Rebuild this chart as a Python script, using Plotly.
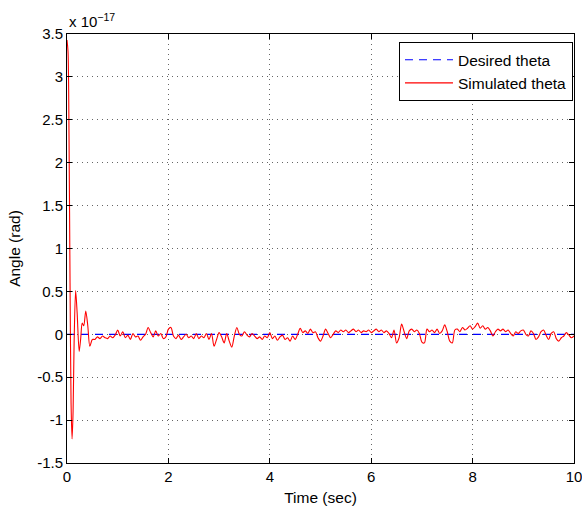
import numpy as np
import plotly.graph_objects as go

# valeurs en unités de 1e-17 rad
transient_t = [0.0, 0.02, 0.04, 0.06, 0.08, 0.10, 0.12, 0.14, 0.17, 0.20,
               0.24, 0.27, 0.30, 0.33, 0.37, 0.41, 0.45, 0.50]
transient_theta = [3.43, 3.30, 2.30, 0.60, -0.80, -1.22, -0.90, -0.10, 0.51, 0.25,
                   -0.20, -0.05, 0.13, 0.10, 0.27, 0.10, -0.14, -0.06]

noise_theta = [
    -0.06, -0.03, -0.05, -0.02, -0.04, -0.05, -0.02, -0.04, -0.01, 0.05,
    -0.02, 0.03, -0.04, -0.01, -0.06, 0.01, -0.03, -0.02, -0.07, -0.03,
    0.00, 0.08, 0.02, -0.03, 0.04, -0.02, 0.01, -0.05, -0.03, 0.06,
    0.08, -0.02, -0.05, -0.01, -0.06, -0.03, 0.00, -0.04, -0.02, -0.05,
    0.01, -0.05, -0.02, -0.04, 0.01, -0.06, 0.01, -0.14, -0.06, 0.02,
    -0.03, -0.10, 0.01, -0.08, -0.15, -0.02, 0.08, 0.00, -0.02, 0.03,
    -0.01, -0.03, 0.01, -0.02, -0.05, -0.03, -0.06, -0.02, -0.04, 0.02,
    -0.05, -0.02, -0.07, -0.03, -0.01, -0.06, -0.04, -0.08, -0.02, -0.06,
    0.00, 0.07, 0.02, 0.04, 0.01, 0.06, 0.02, 0.03, -0.04, -0.08,
    -0.02, 0.06, 0.01, -0.04, 0.00, 0.04, 0.02, 0.05, 0.03, 0.05,
    0.02, 0.04, 0.06, 0.03, 0.05, 0.02, 0.04, 0.03, 0.05, 0.02,
    0.04, 0.06, 0.03, 0.05, 0.02, 0.04, 0.01, -0.04, 0.05, -0.10,
    -0.04, 0.12, 0.03, -0.05, 0.04, 0.06, 0.03, 0.05, 0.01, -0.09,
    -0.10, 0.06, 0.03, 0.05, 0.02, 0.06, 0.01, 0.04, 0.11, 0.03,
    -0.08, -0.10, 0.05, 0.06, 0.03, 0.08, 0.05, 0.07, 0.10, 0.06,
    0.09, 0.13, 0.07, 0.10, 0.06, 0.08, 0.04, -0.02, 0.03, 0.06,
    0.04, 0.06, 0.03, 0.05, 0.01, -0.02, 0.03, 0.01, 0.04, 0.05,
    0.00, -0.02, 0.04, 0.01, -0.06, -0.03, 0.03, 0.05, -0.01, -0.06,
    0.01, 0.03, -0.05, -0.08, -0.04, -0.02, 0.02, -0.01, -0.04, -0.02,
]
noise_t = list(np.round(np.arange(0.55, 10.001, 0.05), 2))

desired_t = [0, 10]
desired_theta = [0, 0]

y_ticks = [-1.5, -1, -0.5, 0, 0.5, 1, 1.5, 2, 2.5, 3, 3.5]
y_labels = ["-1.5", "-1", "-0.5", "0", "0.5", "1", "1.5", "2", "2.5", "3", "3.5"]
x_ticks = [0, 2, 4, 6, 8, 10]

sim_t = transient_t + noise_t
sim_theta = transient_theta + noise_theta

FONT = "Liberation Sans, Arial, Helvetica, sans-serif"

fig = go.Figure()
fig.add_trace(go.Scatter(
    x=desired_t, y=desired_theta, mode="lines", name="Desired theta",
    line=dict(color="#0000ff", width=1.2, dash="8px,6px"),
))
fig.add_trace(go.Scatter(
    x=sim_t, y=sim_theta, mode="lines", name="Simulated theta",
    line=dict(color="#ff0000", width=1.1, shape="spline", smoothing=0.8),
))

axis_common = dict(
    showline=True, linecolor="black", linewidth=1, mirror="ticks",
    ticks="inside", ticklen=5, tickcolor="black", automargin=False,
    ticklabeloverflow="allow",
    showgrid=True, gridcolor="rgba(0,0,0,0.6)", griddash="1px,4px", gridwidth=1,
    zeroline=False, tickfont=dict(size=15, color="black", family=FONT),
)
fig.update_xaxes(
    range=[0, 10], tickvals=x_ticks,
    title=dict(text="Time (sec)", font=dict(size=15.5, color="black", family=FONT), standoff=8),
    **axis_common,
)
fig.update_yaxes(
    range=[-1.5, 3.5], tickvals=y_ticks, ticktext=y_labels,
    title=dict(text="Angle (rad)", font=dict(size=15.5, color="black", family=FONT), standoff=12),
    **axis_common,
)

fig.add_annotation(
    text="x 10<sup>−17</sup>", xref="paper", yref="paper", x=0, y=1.0,
    xanchor="left", yanchor="bottom", showarrow=False, yshift=2,
    font=dict(size=15, color="black", family=FONT),
)

fig.update_layout(
    width=582, height=511,
    margin=dict(l=67, r=8, t=34, b=48),
    plot_bgcolor="white", paper_bgcolor="white",
    font=dict(family=FONT, size=15, color="black"),
    legend=dict(
        x=0.998, y=0.981, xanchor="right", yanchor="top",
        bgcolor="white", bordercolor="black", borderwidth=1,
        font=dict(size=15.5, color="black", family=FONT),
        tracegroupgap=0, itemwidth=48,
    ),
    showlegend=True,
)

# la page a une marge de 8 px par défaut : on l'enlève
fig.write_html(
    "out.html",
    config={"displayModeBar": False},
    post_script="document.body.style.margin='0';",
)
